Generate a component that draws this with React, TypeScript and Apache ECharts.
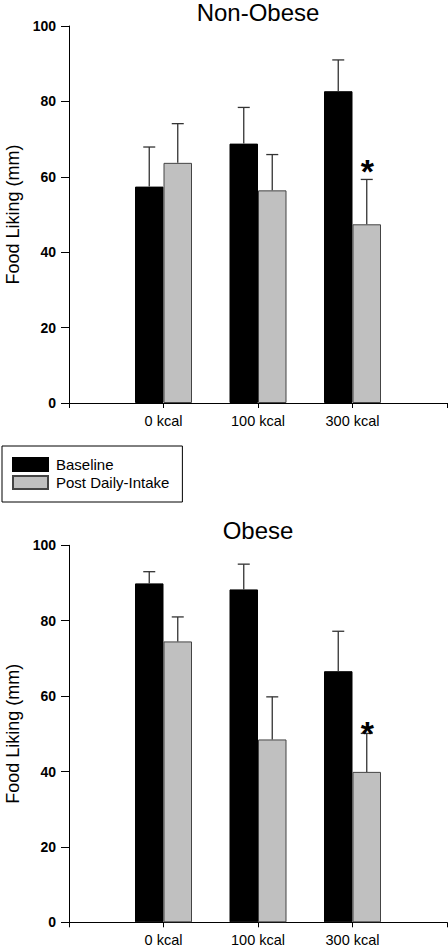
import React, { useEffect, useRef } from "react";
import * as echarts from "echarts";

const categories = ["0 kcal", "100 kcal", "300 kcal"];
const seriesNames = ["Baseline", "Post Daily-Intake"];
const panelTitles = ["Non-Obese", "Obese"];
const yAxisName = "Food Liking (mm)";

const nonObeseBaseline = [57.4, 68.8, 82.7];
const nonObeseBaselineErr = [10.5, 9.6, 8.3];
const nonObesePost = [63.7, 56.4, 47.4];
const nonObesePostErr = [10.4, 9.5, 11.9];
// value (mm) at which the significance asterisk sits above the post bar
const nonObesePostStar = [null, null, 63.2];

const obeseBaseline = [89.9, 88.3, 66.6];
const obeseBaselineErr = [3.1, 6.7, 10.6];
const obesePost = [74.5, 48.5, 39.9];
const obesePostErr = [6.5, 11.3, 10.2];
const obesePostStar = [null, null, 51.9];

const yMin = 0;
const yMax = 100;
const yInterval = 20;

const FONT = "'Liberation Sans', Arial, Helvetica, sans-serif";
const BAR_W = 28.5;

const pad = (arr: any[], fill: any) => [fill, ...arr, fill];

const panels = [
  {
    title: panelTitles[0],
    baseline: nonObeseBaseline,
    baselineErr: nonObeseBaselineErr,
    post: nonObesePost,
    postErr: nonObesePostErr,
    star: nonObesePostStar,
    gridTop: 26,
    titleTop: 0,
  },
  {
    title: panelTitles[1],
    baseline: obeseBaseline,
    baselineErr: obeseBaselineErr,
    post: obesePost,
    postErr: obesePostErr,
    star: obesePostStar,
    gridTop: 545.3,
    titleTop: 518.5,
  },
];

function buildOption() {
  const grid: any[] = [];
  const xAxis: any[] = [];
  const yAxis: any[] = [];
  const title: any[] = [];
  const series: any[] = [];

  panels.forEach((p, i) => {
    grid.push({
      left: 69,
      top: p.gridTop,
      width: 378,
      height: 377,
      containLabel: false,
      outerBoundsMode: "none",
    });
    title.push({
      text: p.title,
      left: 258,
      top: p.titleTop,
      textAlign: "center",
      padding: 0,
      textStyle: { fontSize: 24, fontWeight: "normal", color: "#000", fontFamily: FONT },
    });
    xAxis.push({
      type: "category",
      gridIndex: i,
      data: pad(categories, ""),
      boundaryGap: false,
      axisLine: { lineStyle: { color: "#000", width: 1 } },
      axisTick: { show: true, length: 5, interval: 0, lineStyle: { color: "#000" } },
      axisLabel: { interval: 0, color: "#000", fontSize: 14.5, margin: 10, fontFamily: FONT },
      splitLine: { show: false },
    });
    yAxis.push({
      type: "value",
      gridIndex: i,
      min: yMin,
      max: yMax,
      interval: yInterval,
      name: yAxisName,
      nameLocation: "middle",
      nameGap: 47,
      nameRotate: 90,
      nameMoveOverlap: false,
      nameTextStyle: { fontSize: 18, color: "#000", fontFamily: FONT },
      axisLine: { show: true, lineStyle: { color: "#000", width: 1 } },
      axisTick: { show: true, length: 8, lineStyle: { color: "#000" } },
      axisLabel: { fontWeight: "bold", fontSize: 14, color: "#000", margin: 13, fontFamily: FONT },
      splitLine: { show: false },
    });
    series.push({
      name: seriesNames[0],
      type: "bar",
      xAxisIndex: i,
      yAxisIndex: i,
      barWidth: BAR_W,
      barGap: "0%",
      data: pad(p.baseline, "-"),
      itemStyle: { color: "#000", borderColor: "#000", borderWidth: 1 },
      z: 2,
    });
    series.push({
      name: seriesNames[1],
      type: "bar",
      xAxisIndex: i,
      yAxisIndex: i,
      barWidth: BAR_W,
      barGap: "0%",
      data: pad(p.post, "-"),
      itemStyle: { color: "#c0c0c0", borderColor: "#444", borderWidth: 1 },
      z: 2,
    });
    const errData: any[] = [];
    categories.forEach((_, k) => {
      errData.push([k + 1, p.baseline[k], p.baselineErr[k], -1, NaN]);
      errData.push([k + 1, p.post[k], p.postErr[k], 1, p.star[k] == null ? NaN : p.star[k]]);
    });
    series.push({
      name: "errors",
      type: "custom",
      xAxisIndex: i,
      yAxisIndex: i,
      z: 5,
      silent: true,
      data: errData,
      renderItem: (params: any, api: any) => {
        const x = api.value(0);
        const m = api.value(1);
        const e = api.value(2);
        const side = api.value(3);
        const star = api.value(4);
        const p0 = api.coord([x, m]);
        const p1 = api.coord([x, m + e]);
        const cx = p0[0] + (side * BAR_W) / 2;
        const children: any[] = [
          {
            type: "line",
            shape: { x1: cx, y1: p0[1], x2: cx, y2: p1[1] },
            style: { stroke: "#333", lineWidth: 1.3 },
          },
          {
            type: "line",
            shape: { x1: cx - 6, y1: p1[1], x2: cx + 6, y2: p1[1] },
            style: { stroke: "#333", lineWidth: 1.3 },
          },
        ];
        if (typeof star === "number" && !isNaN(star)) {
          const ps = api.coord([x, star]);
          children.push({
            type: "text",
            x: cx + 0.5,
            y: ps[1] + 6,
            style: {
              text: "*",
              fill: "#000",
              fontSize: 34,
              fontWeight: "bold",
              fontFamily: FONT,
              align: "center",
              verticalAlign: "middle",
            },
          });
        }
        return { type: "group", children };
      },
    });
  });

  return {
    animation: false,
    backgroundColor: "#fff",
    title,
    grid,
    xAxis,
    yAxis,
    legend: {
      data: seriesNames,
      orient: "vertical",
      left: 2,
      top: 446,
      icon: "rect",
      itemWidth: 35,
      itemHeight: 13,
      itemGap: 3,
      padding: [11, 13, 12, 10],
      borderColor: "#000",
      borderWidth: 1,
      selectedMode: false,
      textStyle: { fontSize: 15, color: "#000", fontFamily: FONT, padding: [0, 0, 0, 3] },
    },
    series,
  };
}

export default function App() {
  const ref = useRef<HTMLDivElement>(null);
  useEffect(() => {
    if (!ref.current) return;
    const chart = echarts.init(ref.current, undefined, { renderer: "svg" });
    chart.setOption(buildOption() as any);
    return () => chart.dispose();
  }, []);
  return (
    <div
      ref={ref}
      style={{ position: "absolute", left: 0, top: 0, width: 448, height: 947, background: "#fff" }}
    />
  );
}
